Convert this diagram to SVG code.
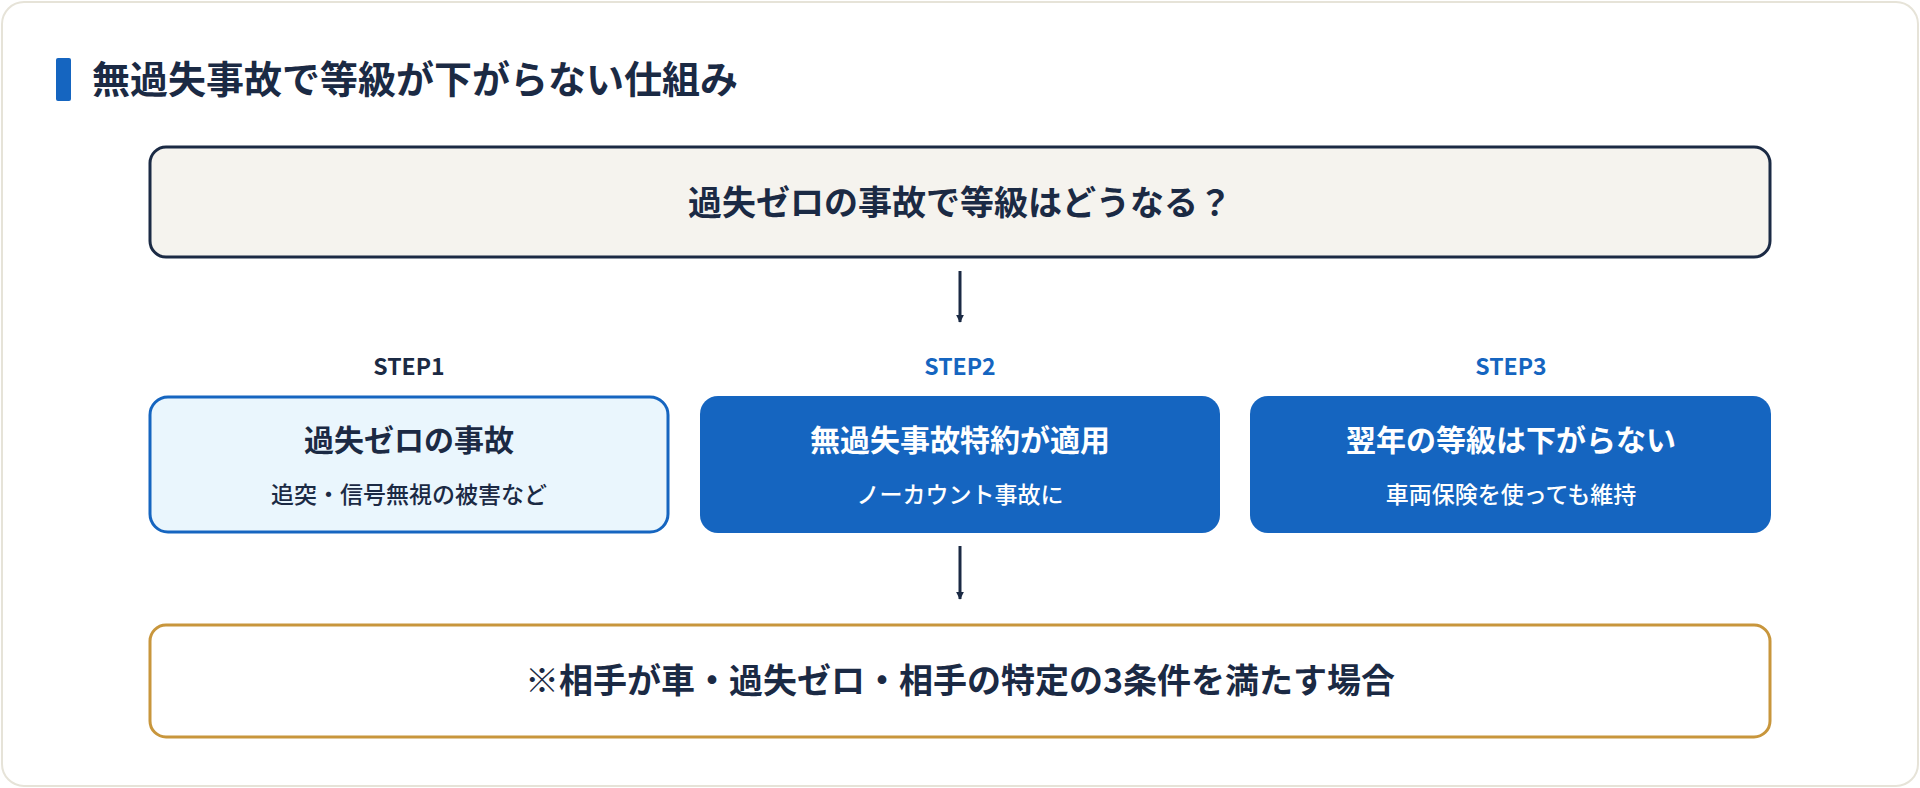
<svg xmlns="http://www.w3.org/2000/svg" width="1920" height="788" viewBox="0 0 1920 788">
<defs>
<style>
text{font-family:"Noto Sans CJK JP","Noto Sans",sans-serif;text-anchor:middle;font-weight:700}
.navy{fill:#1b2a44}
.blue{fill:#1565c0}
.w{fill:#ffffff}
.sub{font-weight:500;font-size:23px}
.ttl{font-size:30px}
.step{font-size:23px}
.conn{stroke:#1b2a44;stroke-width:3;fill:none}
</style>
<marker id="ah" viewBox="0 0 10 10" refX="9" refY="5" markerWidth="8" markerHeight="8" markerUnits="userSpaceOnUse" orient="auto">
<path d="M0,0 L10,5 L0,10 z" fill="#1b2a44"/>
</marker>
</defs>
<rect x="0" y="0" width="1920" height="788" fill="#ffffff"/>
<rect x="2" y="2" width="1916" height="784" rx="22" fill="#ffffff" stroke="#e6e3d8" stroke-width="2"/>
<g id="heading">
<rect x="56" y="58" width="15" height="43" rx="2" fill="#1565c0"/>
<text x="92" y="93" class="navy" style="text-anchor:start;font-size:38px">無過失事故で等級が下がらない仕組み</text>
</g>
<g id="question">
<rect x="150" y="147" width="1620" height="110" rx="16" fill="#f5f3ee" stroke="#1b2a44" stroke-width="3"/>
<text x="960" y="215" class="navy" style="font-size:34px">過失ゼロの事故で等級はどうなる？</text>
</g>
<g id="step1">
<text x="409" y="375" class="navy step">STEP1</text>
<rect x="150" y="397" width="518" height="135" rx="18" fill="#eaf6fd" stroke="#1565c0" stroke-width="3"/>
<text x="409" y="451" class="navy ttl">過失ゼロの事故</text>
<text x="409" y="503" class="navy sub">追突・信号無視の被害など</text>
</g>
<g id="step2">
<text x="960" y="375" class="blue step">STEP2</text>
<rect x="700" y="396" width="520" height="137" rx="18" fill="#1565c0"/>
<text x="960" y="451" class="w ttl">無過失事故特約が適用</text>
<text x="960" y="503" class="w sub">ノーカウント事故に</text>
</g>
<g id="step3">
<text x="1511" y="375" class="blue step">STEP3</text>
<rect x="1250" y="396" width="521" height="137" rx="18" fill="#1565c0"/>
<text x="1511" y="451" class="w ttl">翌年の等級は下がらない</text>
<text x="1511" y="503" class="w sub">車両保険を使っても維持</text>
</g>
<g id="condition">
<rect x="150" y="625" width="1620" height="112" rx="16" fill="#ffffff" stroke="#c8963c" stroke-width="3"/>
<text x="960" y="693" class="navy" style="font-size:34px">※相手が車・過失ゼロ・相手の特定の3条件を満たす場合</text>
</g>
<g id="connectors">
<line x1="960" y1="271" x2="960" y2="322" class="conn" marker-end="url(#ah)"/>
<line x1="960" y1="546" x2="960" y2="599" class="conn" marker-end="url(#ah)"/>
</g>
</svg>
